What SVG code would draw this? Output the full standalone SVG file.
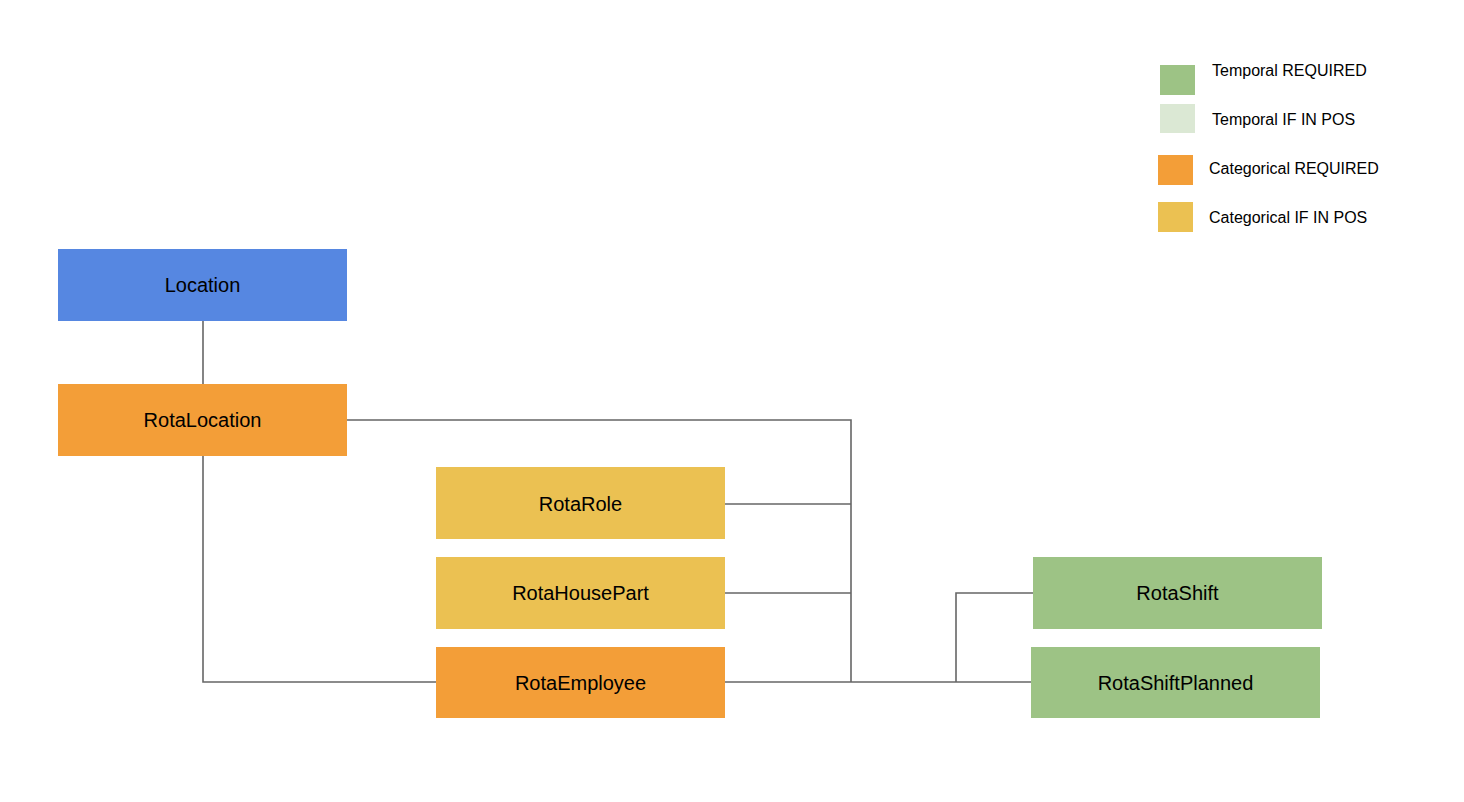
<svg xmlns="http://www.w3.org/2000/svg" width="1464" height="802" viewBox="0 0 1464 802">
<style>
text{font-family:"Liberation Sans",Arial,sans-serif;font-size:20px;fill:#000;text-anchor:middle;dominant-baseline:central}
.lg{font-size:16px;text-anchor:start}
.c{fill:none;stroke:#666;stroke-width:1.6}
.blue{fill:#5687e1}.orange{fill:#f39e38}.yellow{fill:#ebc152}.green{fill:#9dc385}.lgreen{fill:#dbe8d4}
</style>
<rect width="1464" height="802" fill="#fff"/>
<g id="legend">
<rect class="green" x="1160" y="65" width="35" height="30"/><text class="lg" x="1212" y="70">Temporal REQUIRED</text>
<rect class="lgreen" x="1160" y="104" width="35" height="29"/><text class="lg" x="1212" y="119">Temporal IF IN POS</text>
<rect class="orange" x="1158" y="155" width="35" height="30"/><text class="lg" x="1209" y="168">Categorical REQUIRED</text>
<rect class="yellow" x="1158" y="202" width="35" height="30"/><text class="lg" x="1209" y="217">Categorical IF IN POS</text>
</g>
<g id="connectors">
<path class="c" d="M203 321V384"/>
<path class="c" d="M347 420H851V682"/>
<path class="c" d="M725 504H851"/>
<path class="c" d="M725 593H851"/>
<path class="c" d="M725 682H1031"/>
<path class="c" d="M203 456V682H436"/>
<path class="c" d="M1033 593H956V682"/>
</g>
<g id="Location"><rect class="blue" x="58" y="249" width="289" height="72"/><text x="202.5" y="285">Location</text></g>
<g id="RotaLocation"><rect class="orange" x="58" y="384" width="289" height="72"/><text x="202.5" y="420">RotaLocation</text></g>
<g id="RotaRole"><rect class="yellow" x="436" y="467" width="289" height="72"/><text x="580.5" y="504">RotaRole</text></g>
<g id="RotaHousePart"><rect class="yellow" x="436" y="557" width="289" height="72"/><text x="580.5" y="593">RotaHousePart</text></g>
<g id="RotaEmployee"><rect class="orange" x="436" y="647" width="289" height="71"/><text x="580.5" y="683">RotaEmployee</text></g>
<g id="RotaShift"><rect class="green" x="1033" y="557" width="289" height="72"/><text x="1177.5" y="593">RotaShift</text></g>
<g id="RotaShiftPlanned"><rect class="green" x="1031" y="647" width="289" height="71"/><text x="1175.5" y="683">RotaShiftPlanned</text></g>
</svg>
